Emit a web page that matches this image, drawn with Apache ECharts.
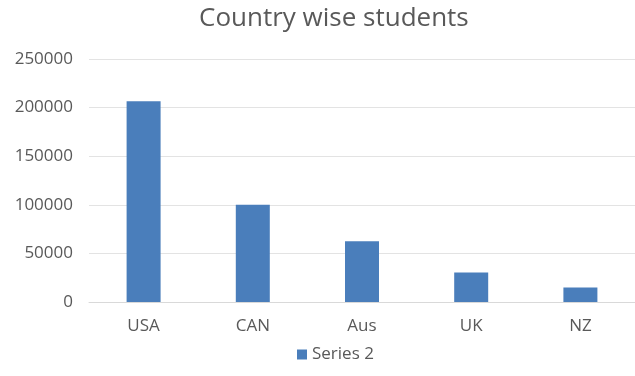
<!DOCTYPE html>
<html>
<head>
<meta charset="utf-8">
<script src="https://cdn.jsdelivr.net/npm/echarts@6/dist/echarts.min.js"></script>
<style>
  html, body { margin: 0; padding: 0; background: #fff; }
  #chart { width: 635px; height: 376px; }
</style>
</head>
<body>
<div id="chart"></div>
<script>
const categories = ['USA', 'CAN', 'Aus', 'UK', 'NZ'];
const series2 = [206500, 100000, 62500, 30300, 14900];

const chart = echarts.init(document.getElementById('chart'));
chart.setOption({
    animation: false,
    title: {
        text: 'Country wise students',
        left: 194,
        top: 1,
        textStyle: {
            fontFamily: 'Open Sans',
            fontSize: 26,
            fontWeight: 'normal',
            color: '#595959'
        }
    },
    grid: {
        left: 89,
        top: 59,
        width: 552,
        height: 243
    },
    legend: {
        bottom: 8,
        left: 292,
        itemWidth: 10,
        itemHeight: 10,
        itemGap: 6,
        icon: 'rect',
        textStyle: {
            fontFamily: 'Open Sans',
            fontSize: 17,
            color: '#595959'
        },
        data: ['Series 2']
    },
    xAxis: {
        type: 'category',
        data: categories,
        axisLine: { lineStyle: { color: '#d9d9d9' } },
        axisTick: { show: false },
        axisLabel: {
            fontFamily: 'Open Sans',
            fontSize: 17,
            color: '#595959',
            margin: 16
        }
    },
    yAxis: {
        type: 'value',
        min: 0,
        max: 250000,
        interval: 50000,
        axisLine: { show: false },
        axisTick: { show: false },
        splitLine: { lineStyle: { color: '#e3e3e3' } },
        axisLabel: {
            fontFamily: 'Open Sans',
            fontSize: 17,
            color: '#595959',
            margin: 16,
            formatter: v => String(v)
        }
    },
    series: [{
        name: 'Series 2',
        type: 'bar',
        barWidth: 34,
        itemStyle: { color: '#4a7ebb' },
        data: series2
    }]
});
</script>
</body>
</html>
